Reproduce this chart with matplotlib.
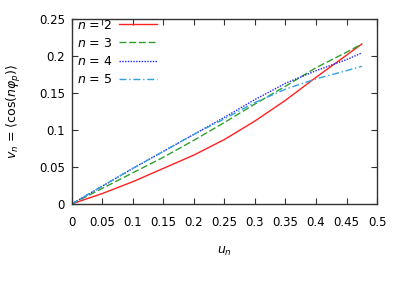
import matplotlib
matplotlib.use("Agg")
import matplotlib.pyplot as plt

u = [0.0, 0.05, 0.1, 0.15, 0.2, 0.25, 0.3, 0.35, 0.4, 0.45, 0.475]
v2 = [0.0, 0.014, 0.030, 0.048, 0.066, 0.087, 0.112, 0.140, 0.171, 0.201, 0.216]
v3 = [0.0, 0.021, 0.042, 0.063, 0.086, 0.110, 0.135, 0.159, 0.184, 0.205, 0.216]
v4 = [0.0, 0.024, 0.048, 0.071, 0.094, 0.117, 0.141, 0.163, 0.180, 0.195, 0.204]
v5 = [0.0, 0.024, 0.048, 0.071, 0.094, 0.115, 0.137, 0.155, 0.169, 0.180, 0.186]
labels = ["$n$ = 2", "$n$ = 3", "$n$ = 4", "$n$ = 5"]
xticks = [0, 0.05, 0.1, 0.15, 0.2, 0.25, 0.3, 0.35, 0.4, 0.45, 0.5]
xticklabels = ["0", "0.05", "0.1", "0.15", "0.2", "0.25", "0.3", "0.35", "0.4", "0.45", "0.5"]
yticks = [0, 0.05, 0.1, 0.15, 0.2, 0.25]
yticklabels = ["0", "0.05", "0.1", "0.15", "0.2", "0.25"]

plt.rcParams['font.family'] = ['DejaVu Sans']
plt.rcParams['mathtext.fontset'] = 'dejavusans'
fig = plt.figure(figsize=(3.99, 2.82), dpi=100)
ax = fig.add_axes([0.180, 0.277, 0.765, 0.656])

styles = [
    dict(color='#ff2020', linestyle='-'),
    dict(color='#30a030', linestyle=(0, (5, 2))),
    dict(color='#2020ff', linestyle=(0, (1, 1))),
    dict(color='#30a0e0', linestyle=(0, (5, 2, 1, 2))),
]
for vals, lab, st in zip([v2, v3, v4, v5], labels, styles):
    ax.plot(u, vals, label=lab, linewidth=1.0, **st)

ax.set_xlim(0, 0.5)
ax.set_ylim(0, 0.25)
ax.set_xticks(xticks)
ax.set_xticklabels(xticklabels)
ax.set_yticks(yticks)
ax.set_yticklabels(yticklabels)
ax.tick_params(direction='in', top=True, right=True, length=4.5, width=0.8,
               labelsize=8.5, color='#333333')
ax.tick_params(axis='x', pad=9)
ax.tick_params(axis='y', pad=5)
for s in ax.spines.values():
    s.set_color('#333333')
    s.set_linewidth(1.0)

ax.set_xlabel("$u_n$", fontsize=9)
ax.xaxis.set_label_coords(0.5, -0.22)
ax.set_ylabel(r"$v_n$ = $\langle\cos(n\varphi_p)\rangle$", fontsize=9)
ax.yaxis.set_label_coords(-0.16, 0.5)

leg = ax.legend(loc='upper left', bbox_to_anchor=(0.004, 1.022), frameon=False,
                markerfirst=False, fontsize=9,
                handlelength=3.0, handletextpad=0.55, labelspacing=0.42,
                borderaxespad=0.1, borderpad=0.2)
for t in leg.get_texts():
    t.set_ha('right')

fig.savefig("out.png", dpi=100)
